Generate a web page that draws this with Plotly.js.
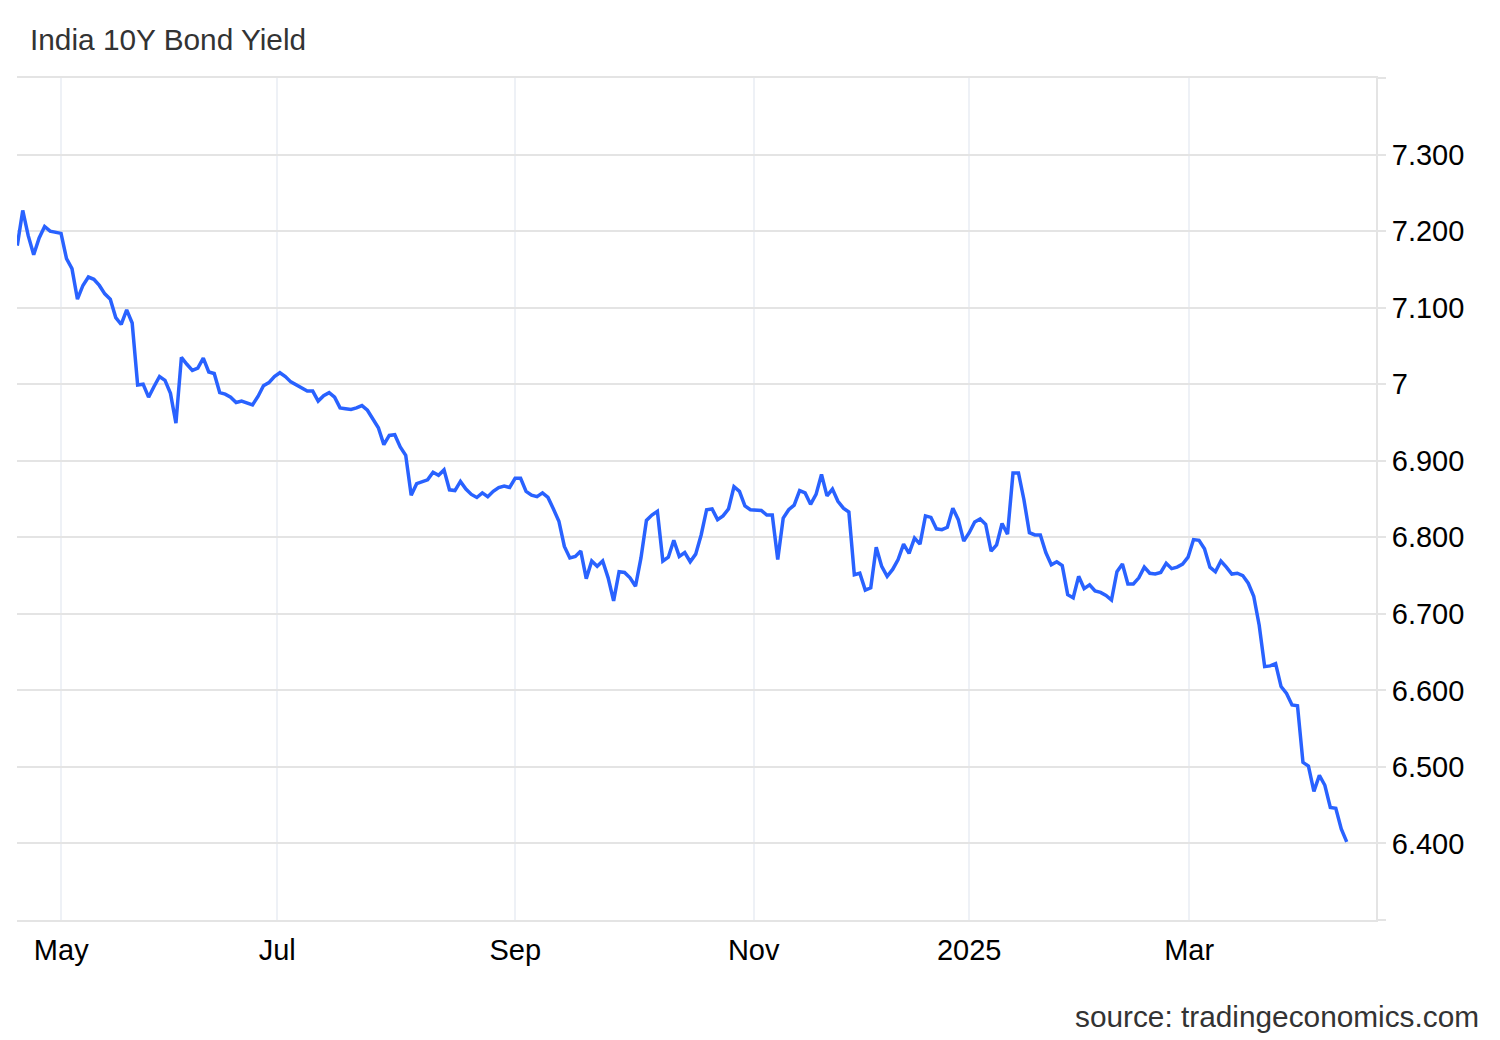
<!DOCTYPE html>
<html>
<head>
<meta charset="utf-8">
<script src="https://cdn.plot.ly/plotly-3.0.1.min.js"></script>
<style>
  html, body { margin: 0; padding: 0; background: #ffffff; }
  #chart { width: 1500px; height: 1040px; }
</style>
</head>
<body>
<div id="chart"></div>
<script>
// India 10Y bond yield, one value per trading session (Apr 2024 - Apr 2025)
const yields = [
  7.181, 7.227, 7.194, 7.169, 7.191, 7.206, 7.200, 7.198, 7.197, 7.164,
  7.151, 7.111, 7.129, 7.140, 7.137, 7.129, 7.118, 7.111, 7.087, 7.078,
  7.097, 7.080, 6.999, 7.000, 6.983, 6.997, 7.010, 7.005, 6.988, 6.949,
  7.035, 7.026, 7.018, 7.021, 7.034, 7.016, 7.014, 6.989, 6.987, 6.983,
  6.976, 6.978, 6.975, 6.973, 6.984, 6.998, 7.002, 7.010, 7.015, 7.010,
  7.003, 6.999, 6.994, 6.991, 6.991, 6.978, 6.985, 6.989, 6.983, 6.969,
  6.968, 6.967, 6.969, 6.972, 6.966, 6.955, 6.943, 6.921, 6.933, 6.934,
  6.918, 6.907, 6.855, 6.870, 6.872, 6.875, 6.885, 6.881, 6.888, 6.862,
  6.861, 6.873, 6.863, 6.856, 6.852, 6.858, 6.853, 6.860, 6.865, 6.867,
  6.865, 6.877, 6.877, 6.860, 6.855, 6.853, 6.858, 6.852, 6.837, 6.821,
  6.788, 6.773, 6.775, 6.782, 6.746, 6.769, 6.762, 6.769, 6.747, 6.717,
  6.755, 6.754, 6.747, 6.736, 6.773, 6.822, 6.829, 6.834, 6.769, 6.774,
  6.796, 6.775, 6.780, 6.768, 6.778, 6.803, 6.836, 6.837, 6.823, 6.828,
  6.837, 6.866, 6.860, 6.841, 6.836, 6.836, 6.835, 6.829, 6.829, 6.771,
  6.825, 6.836, 6.842, 6.861, 6.858, 6.843, 6.856, 6.882, 6.854, 6.863,
  6.847, 6.838, 6.833, 6.751, 6.753, 6.731, 6.734, 6.787, 6.762, 6.749,
  6.758, 6.771, 6.791, 6.779, 6.799, 6.791, 6.828, 6.826, 6.811, 6.810,
  6.813, 6.838, 6.823, 6.795, 6.806, 6.820, 6.824, 6.817, 6.782, 6.790,
  6.818, 6.804, 6.884, 6.884, 6.849, 6.806, 6.803, 6.803, 6.780, 6.764,
  6.768, 6.763, 6.725, 6.721, 6.749, 6.733, 6.738, 6.730, 6.728, 6.724,
  6.718, 6.755, 6.765, 6.739, 6.739, 6.747, 6.761, 6.753, 6.752, 6.754,
  6.766, 6.759, 6.761, 6.765, 6.774, 6.797, 6.796, 6.785, 6.761, 6.755,
  6.769, 6.761, 6.752, 6.753, 6.750, 6.740, 6.723, 6.685, 6.631, 6.632,
  6.635, 6.605, 6.596, 6.581, 6.580, 6.506, 6.501, 6.468, 6.489, 6.476,
  6.447, 6.446, 6.419, 6.402
];

// Month boundaries expressed as trading-session positions
const xTickVals = [8.04, 47.52, 91.03, 134.6, 173.99, 214.2];
const xTickText = ["May", "Jul", "Sep", "Nov", "2025", "Mar"];

const yTickVals = [6.3, 6.4, 6.5, 6.6, 6.7, 6.8, 6.9, 7.0, 7.1, 7.2, 7.3, 7.4];
const yTickText = ["", "6.400", "6.500", "6.600", "6.700", "6.800", "6.900", "7", "7.100", "7.200", "7.300", ""];

const FONT = "Liberation Sans, Arial, Helvetica, sans-serif";

const trace = {
  y: yields,
  type: "scatter",
  mode: "lines",
  line: { color: "#2962ff", width: 3.5, shape: "linear" },
  hoverinfo: "skip"
};

const layout = {
  width: 1500,
  height: 1040,
  margin: { l: 17, r: 124, t: 78, b: 120 },
  paper_bgcolor: "#ffffff",
  plot_bgcolor: "#ffffff",
  showlegend: false,
  font: { family: FONT, size: 29, color: "#000000" },
  title: {
    text: "India 10Y Bond Yield",
    font: { family: FONT, size: 29.8, color: "#333333" },
    xref: "container", yref: "container",
    x: 30 / 1500, xanchor: "left",
    y: 1 - 40 / 1040, yanchor: "middle"
  },
  xaxis: {
    range: [-0.05, 248.35],
    tickmode: "array",
    tickvals: xTickVals,
    ticktext: xTickText,
    ticks: "",
    ticklabelstandoff: 3,
    showgrid: true,
    gridcolor: "#eef1f6",
    gridwidth: 2,
    showline: true,
    mirror: true,
    linecolor: "#e4e4e4",
    linewidth: 2,
    zeroline: false,
    tickfont: { family: FONT, size: 29, color: "#000000" },
    fixedrange: true
  },
  yaxis: {
    side: "right",
    range: [6.3, 7.4],
    tickmode: "array",
    tickvals: yTickVals,
    ticktext: yTickText,
    ticks: "outside",
    ticklen: 8,
    tickwidth: 2,
    tickcolor: "#e4e4e4",
    showgrid: true,
    gridcolor: "#e4e4e4",
    gridwidth: 2,
    showline: true,
    linecolor: "#e4e4e4",
    linewidth: 2,
    zeroline: false,
    tickfont: { family: FONT, size: 29, color: "#000000" },
    fixedrange: true
  },
  annotations: [{
    text: "source: tradingeconomics.com",
    xref: "paper", yref: "paper",
    x: (1481 - 17) / 1359, xanchor: "right",
    y: (920 - 1016) / 842, yanchor: "middle",
    showarrow: false,
    font: { family: FONT, size: 29.8, color: "#333333" }
  }]
};

Plotly.newPlot("chart", [trace], layout, { displayModeBar: false, staticPlot: true });
</script>
</body>
</html>
